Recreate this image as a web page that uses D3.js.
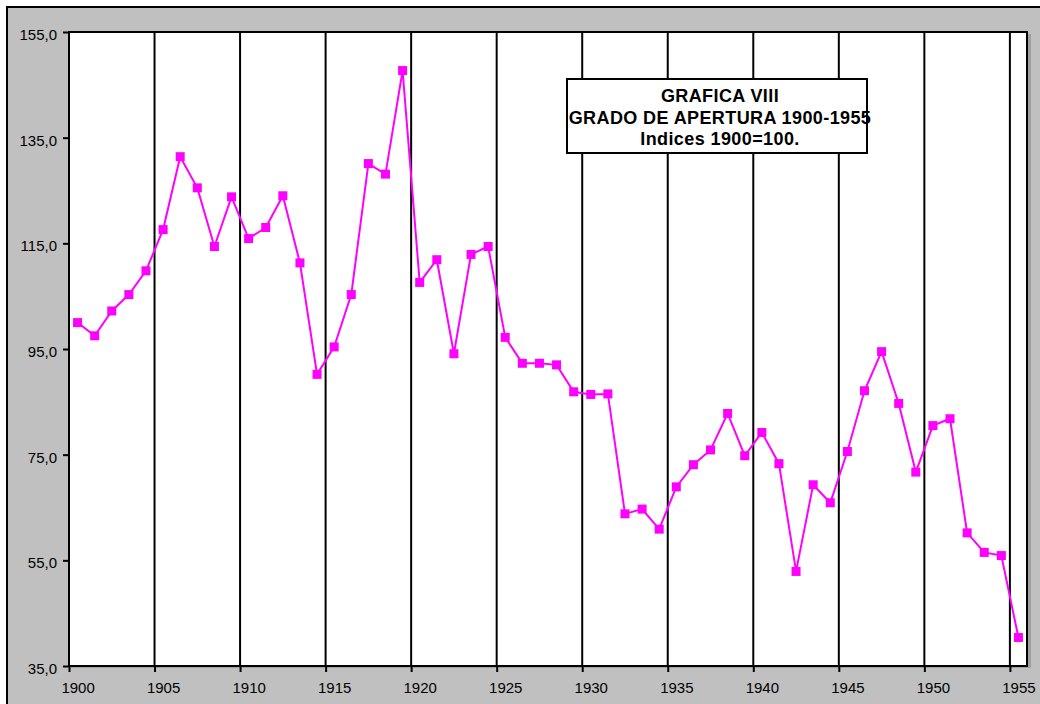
<!DOCTYPE html>
<html>
<head>
<meta charset="utf-8">
<script src="https://cdn.jsdelivr.net/npm/d3@7/dist/d3.min.js"></script>
<style>
  html, body { margin: 0; padding: 0; background: #ffffff; }
  svg { display: block; font-family: "Liberation Sans", Arial, sans-serif; }
</style>
</head>
<body>
<svg id="chart" width="1040" height="704"></svg>
<script>
const years = d3.range(1900, 1956);
const values = [
  100.0, 97.5, 102.2, 105.3, 109.8, 117.6, 131.4, 125.5, 114.4, 123.8,
  115.9, 118.0, 124.0, 111.3, 90.2, 95.4, 105.3, 130.1, 128.1, 147.7,
  107.6, 111.9, 94.1, 112.9, 114.4, 97.2, 92.3, 92.3, 92.0, 86.9,
  86.4, 86.5, 63.8, 64.7, 60.9, 68.9, 73.1, 75.9, 82.8, 74.8,
  79.2, 73.3, 52.9, 69.3, 65.9, 75.6, 87.1, 94.5, 84.7, 71.7,
  80.5, 81.8, 60.2, 56.5, 55.9, 40.4
];
const yTicks = [35, 55, 75, 95, 115, 135, 155];
const xTickYears = [1900, 1905, 1910, 1915, 1920, 1925, 1930, 1935, 1940, 1945, 1950, 1955];
const titleLines = ["GRAFICA VIII", "GRADO DE APERTURA 1900-1955", "Indices 1900=100."];

const svg = d3.select("#chart");
const plot = { left: 69, right: 1027, top: 32, bottom: 666 };

// outer gray chart area
svg.append("rect").attr("x", 7).attr("y", 7).attr("width", 1100).attr("height", 800)
  .attr("fill", "#c0c0c0").attr("stroke", "#000").attr("stroke-width", 2);

const x = d3.scaleLinear().domain([1900, 1956]).range([plot.left, plot.right]);
const bw = x(1901) - x(1900);
const y = d3.scaleLinear().domain([35, 155]).range([plot.bottom, plot.top]);

// plot area shadow + fill
svg.append("rect").attr("x", plot.left + 2).attr("y", plot.top + 2)
  .attr("width", plot.right - plot.left + 2).attr("height", plot.bottom - plot.top)
  .attr("fill", "#a0a0a0");
svg.append("rect").attr("x", plot.left).attr("y", plot.top)
  .attr("width", plot.right - plot.left).attr("height", plot.bottom - plot.top)
  .attr("fill", "#ffffff");

// vertical gridlines
svg.append("g").selectAll("line").data(xTickYears.filter(d => d > 1900)).join("line")
  .attr("x1", d => x(d)).attr("x2", d => x(d))
  .attr("y1", plot.top).attr("y2", plot.bottom)
  .attr("stroke", "#000").attr("stroke-width", 2);

// plot border
svg.append("rect").attr("x", plot.left).attr("y", plot.top)
  .attr("width", plot.right - plot.left).attr("height", plot.bottom - plot.top)
  .attr("fill", "none").attr("stroke", "#000").attr("stroke-width", 2);

// y axis
const yAxis = svg.append("g").attr("transform", `translate(${plot.left},0)`)
  .call(d3.axisLeft(y).tickValues(yTicks).tickSize(6).tickPadding(6)
    .tickFormat(d => d.toFixed(1).replace(".", ",")));
yAxis.select(".domain").remove();
yAxis.selectAll(".tick line").attr("stroke", "#000").attr("stroke-width", 2);
yAxis.selectAll(".tick text").attr("font-size", 15).attr("fill", "#000")
  .attr("font-family", "'Liberation Sans', Arial, sans-serif").attr("dy", "0.5em");

// x axis
const xAxis = svg.append("g").attr("transform", `translate(0,${plot.bottom})`)
  .call(d3.axisBottom(x).tickValues(xTickYears).tickSize(6).tickPadding(10)
    .tickFormat(d => String(d)));
xAxis.select(".domain").remove();
xAxis.selectAll(".tick line").attr("stroke", "#000").attr("stroke-width", 2);
xAxis.selectAll(".tick text").attr("font-size", 15).attr("fill", "#000")
  .attr("font-family", "'Liberation Sans', Arial, sans-serif")
  .attr("x", bw / 2);

// series line
const pts = years.map((yr, i) => ({ yr, v: values[i] }));
svg.append("path").datum(pts)
  .attr("fill", "none").attr("stroke", "#ff00ff").attr("stroke-width", 2)
  .attr("d", d3.line().x(d => x(d.yr) + bw / 2).y(d => y(d.v)));

svg.append("g").selectAll("rect").data(pts).join("rect")
  .attr("x", d => x(d.yr) + bw / 2 - 4.5).attr("y", d => y(d.v) - 4.5)
  .attr("width", 9).attr("height", 9).attr("fill", "#ff00ff");

// title box
svg.append("rect").attr("x", 567).attr("y", 79).attr("width", 300).attr("height", 74)
  .attr("fill", "#ffffff").attr("stroke", "#000").attr("stroke-width", 2);
svg.append("g").selectAll("text").data(titleLines).join("text")
  .attr("x", 720).attr("y", (d, i) => 102 + i * 21.5)
  .attr("text-anchor", "middle").attr("font-size", 18).attr("font-weight", "bold")
  .attr("letter-spacing", "0.4px")
  .attr("fill", "#000")
  .text(d => d);
</script>
</body>
</html>
